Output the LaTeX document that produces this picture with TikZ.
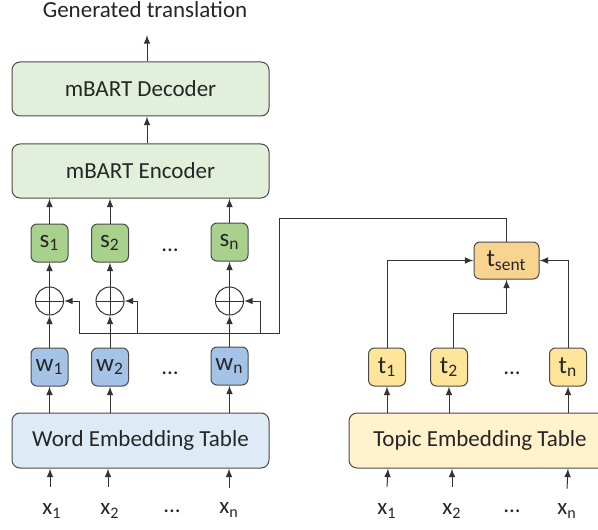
\documentclass[tikz,border=0pt]{standalone}
\usepackage{fontspec}
\setmainfont{Carlito}
\usetikzlibrary{arrows}
\usetikzlibrary{shapes}

\definecolor{encgreen}{HTML}{E2EFDA}
\definecolor{sgreen}{HTML}{A9D18E}
\definecolor{wblue}{HTML}{A4C3E6}
\definecolor{tabblue}{HTML}{DEEBF7}
\definecolor{tyellow}{HTML}{FFE599}
\definecolor{tsentorange}{HTML}{F9D390}
\definecolor{tabyellow}{HTML}{FFF2CC}
\definecolor{edgegray}{HTML}{4A4A4A}

\begin{document}
\begin{tikzpicture}[x=0.5pt,y=-0.5pt,
        every node/.style={font=\fontsize{11.5}{13}\selectfont, text=black!85},
        line/.style={draw=black!80, line width=0.5pt},
        bigbox/.style={draw=edgegray, line width=0.5pt, rounded corners=4pt, minimum width=128.5pt, minimum height=27pt},
        smallbox/.style={draw=edgegray, line width=0.5pt, rounded corners=3pt, minimum width=18.5pt, minimum height=19pt, inner sep=0pt, font=\fontsize{12.5}{14}\selectfont},
        addop/.style={circle, draw=black!80, line width=0.5pt, minimum size=14pt, inner sep=0pt,
            path picture={\draw[black!80, line width=0.5pt] (path picture bounding box.north) -- (path picture bounding box.south)
                (path picture bounding box.west) -- (path picture bounding box.east);}},
        >=latex]
        \useasboundingbox (0,0) rectangle (598,529);

        % output side
        \node[] (title) at (145,10) {Generated translation};
        \coordinate (outtip) at (147,35);
        \node[bigbox, fill=encgreen] (dec) at (140.5,89) {mBART Decoder};
        \node[bigbox, fill=encgreen] (enc) at (140.5,171) {mBART Encoder};

        % sentence inputs
        \node[smallbox, fill=sgreen] (s1) at (49.5,243) {s\textsubscript{1}};
        \node[smallbox, fill=sgreen] (s2) at (110,243) {s\textsubscript{2}};
        \node[smallbox, fill=sgreen] (sn) at (229.5,242) {s\textsubscript{n}};
        \node[] (sdots) at (170,250) {...};

        \node[addop] (p1) at (49.5,301) {};
        \node[addop] (p2) at (110,301) {};
        \node[addop] (pn) at (229.5,301) {};

        \node[smallbox, fill=wblue] (w1) at (49.5,367) {w\textsubscript{1}};
        \node[smallbox, fill=wblue] (w2) at (110,367) {w\textsubscript{2}};
        \node[smallbox, fill=wblue] (wn) at (229.5,366) {w\textsubscript{n}};
        \node[] (wdots) at (170,373) {...};

        \node[bigbox, fill=tabblue, minimum height=27.5pt] (wtab) at (140.5,440.5) {Word Embedding Table};

        \node[] (x1) at (52,511) {x\textsubscript{1}};
        \node[] (x2) at (110,511) {x\textsubscript{2}};
        \node[] (xdots) at (172,511) {...};
        \node[] (xn) at (229,510) {x\textsubscript{n}};

        % topic side
        \node[smallbox, fill=tsentorange, minimum width=32.5pt, minimum height=18.5pt] (tsent) at (506.5,260.5) {t\textsubscript{sent}};

        \node[smallbox, fill=tyellow] (t1) at (387,367) {t\textsubscript{1}};
        \node[smallbox, fill=tyellow] (t2) at (449,367) {t\textsubscript{2}};
        \node[smallbox, fill=tyellow] (tn) at (568,367) {t\textsubscript{n}};
        \node[] (tdots) at (512,373) {...};

        \node[bigbox, fill=tabyellow, minimum width=131pt, minimum height=27.5pt] (ttab) at (480,440.5) {Topic Embedding Table};

        \node[] (rx1) at (387,511) {x\textsubscript{1}};
        \node[] (rx2) at (452,511) {x\textsubscript{2}};
        \node[] (rxdots) at (512,511) {...};
        \node[] (rxn) at (567,511) {x\textsubscript{n}};

        % bus coordinates
        \coordinate (bT) at (279,218);
        \coordinate (bB) at (279,333);
        \coordinate (b1) at (79,333);
        \coordinate (b2) at (137,333);
        \coordinate (bn) at (260,333);
        \coordinate (tj) at (453,313);

        \draw[line, ->] (dec.north -| outtip) -- (outtip);
        \draw[line, ->] (enc.north -| outtip) -- (dec.south -| outtip);
        \draw[line, ->] (s1) -- (s1 |- enc.south);
        \draw[line, ->] (s2) -- (s2 |- enc.south);
        \draw[line, ->] (sn) -- (sn |- enc.south);
        \draw[line, ->] (p1) -- (p1 |- s1.south);
        \draw[line, ->] (p2) -- (p2 |- s2.south);
        \draw[line, ->] (pn) -- (pn |- sn.south);
        \draw[line, ->] (w1) -- (p1.south);
        \draw[line, ->] (w2) -- (p2.south);
        \draw[line, ->] (wn) -- (pn.south);
        \draw[line, ->] (wtab.north -| w1) -- (w1.south);
        \draw[line, ->] (wtab.north -| w2) -- (w2.south);
        \draw[line, ->] (wtab.north -| wn) -- (wn.south);
        \draw[line, ->] (x1.north) ++(-2,-10) -- (wtab.south -| 50,0);
        \draw[line, ->] (x2.north) ++(-2,-10) -- (wtab.south -| 108,0);
        \draw[line, ->] (xn.north) ++(0,-8) -- (wtab.south -| 229,0);

        \draw[line] (tsent.north) |- (bT) -- (bB) -- (b1);
        \draw[line, ->] (b1) |- (p1.east);
        \draw[line, ->] (b2) |- (p2.east);
        \draw[line, ->] (bn) |- (pn.east);

        \draw[line, ->] (t1.north) |- (tsent.west);
        \draw[line, ->] (t2.north -| tj) -- (tj) -| (tsent.south);
        \draw[line, ->] (tn.north) |- (tsent.east);
        \draw[line, ->] (ttab.north -| t1) -- (t1.south);
        \draw[line, ->] (ttab.north -| t2) -- (t2.south);
        \draw[line, ->] (ttab.north -| tn) -- (tn.south);
        \draw[line, ->] (rx1.north) ++(0,-10) -- (ttab.south -| 388,0);
        \draw[line, ->] (rx2.north) ++(0,-10) -- (ttab.south -| 452,0);
        \draw[line, ->] (rxn.north) ++(0,-8) -- (ttab.south -| 568,0);
\end{tikzpicture}
\end{document}
